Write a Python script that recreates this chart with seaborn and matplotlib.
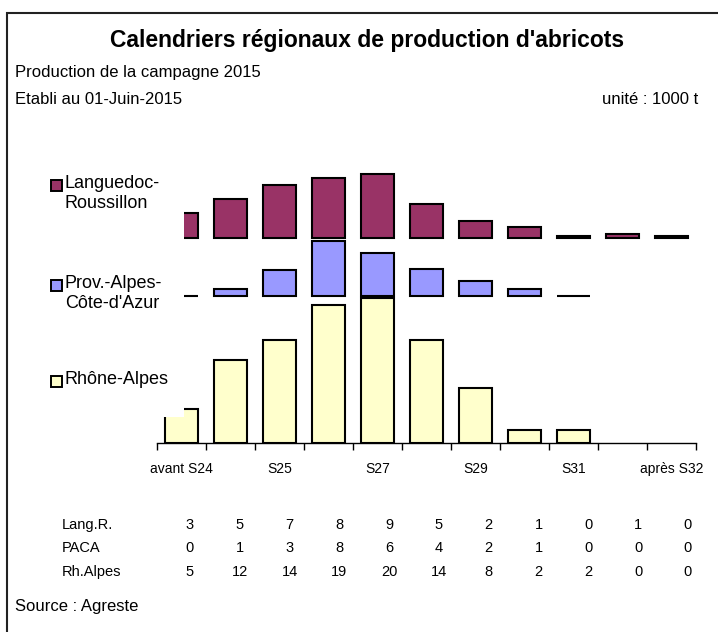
import numpy as np
import matplotlib
matplotlib.use("Agg")
import matplotlib.pyplot as plt
from matplotlib.patches import Rectangle
import seaborn as sns

# semaines
semaines = ["avant S24", "S24", "S25", "S26", "S27", "S28", "S29", "S30", "S31", "S32", "après S32"]
etiquettes = ["avant S24", "", "S25", "", "S27", "", "S29", "", "S31", "", "après S32"]

# hauteurs des barres (1000 t)
lang_barres = [3.4, 5.4, 7.3, 8.3, 8.8, 4.7, 2.3, 1.5, 0.3, 0.5, 0.2]
paca_barres = [0.0, 1.0, 3.6, 7.6, 5.9, 3.7, 2.1, 1.0, 0.0]
rhone_barres = [4.7, 11.4, 14.2, 19.0, 20.0, 14.2, 7.6, 1.8, 1.8, 0.0, 0.0]

# tableau sous le graphique (valeurs arrondies)
lignes_tableau = ["Lang.R.", "PACA", "Rh.Alpes"]
lang_tableau = [3, 5, 7, 8, 9, 5, 2, 1, 0, 1, 0]
paca_tableau = [0, 1, 3, 8, 6, 4, 2, 1, 0, 0, 0]
rhone_tableau = [5, 12, 14, 19, 20, 14, 8, 2, 2, 0, 0]

regions = ["Languedoc-\nRoussillon", "Prov.-Alpes-\nCôte-d'Azur", "Rhône-Alpes"]
couleurs = ["#993366", "#9999FF", "#FFFFCC"]

sns.set_style("white")
plt.rcParams["font.family"] = ["Liberation Sans", "DejaVu Sans"]
plt.rcParams["text.color"] = "black"
plt.rcParams["xtick.color"] = "black"

W, H = 718, 632


def fx(px):
    return px / W


def fy(py):
    return 1 - py / H


fig = plt.figure(figsize=(W / 100, H / 100), dpi=100)
ax = fig.add_axes([fx(157), fy(443), fx(696) - fx(157), (443 - 153) / H])

# empilement avec décalage fixe entre les régions
base_paca = max(rhone_barres) + 0.3
base_lang = base_paca + 8.0

kw = dict(width=0.69, edgecolor="black", linewidth=1.5, order=semaines, saturation=1)
sns.barplot(x=semaines, y=rhone_barres, color=couleurs[2], ax=ax, **kw)
# les barres nulles de Rhône-Alpes restent invisibles sur l'axe
for p in ax.patches:
    if p.get_height() == 0:
        p.set_edgecolor("none")
sns.barplot(x=semaines[:len(paca_barres)], y=paca_barres, color=couleurs[1], ax=ax,
            bottom=np.full(len(paca_barres), base_paca), **kw)
sns.barplot(x=semaines, y=lang_barres, color=couleurs[0], ax=ax,
            bottom=np.full(len(lang_barres), base_lang), **kw)

ax.set_xlim(-0.5, len(semaines) - 0.5)
ax.set_ylim(0, 40)
ax.set_xlabel("")
ax.set_ylabel("")
ax.set_yticks([])
sns.despine(ax=ax, left=True)
ax.spines["bottom"].set_color("black")
ax.spines["bottom"].set_linewidth(1)
ax.set_xticks(range(len(semaines)))
ax.set_xticklabels(etiquettes, fontsize=10)
ax.set_xticks(np.arange(-0.5, len(semaines), 1), minor=True)
ax.tick_params(axis="x", which="major", length=0, pad=14)
ax.tick_params(axis="x", which="minor", bottom=True, length=5, width=1, color="black", direction="out")

# fond blanc de la légende qui masque le début des barres
ax.add_patch(Rectangle((fx(40), fy(417)), fx(184) - fx(40), (417 - 150) / H,
                       transform=fig.transFigure, facecolor="white", edgecolor="none",
                       zorder=5, clip_on=False))

# légende
for nom, coul, ytxt in zip(regions, couleurs, [185, 285, 381]):
    fig.add_artist(Rectangle((fx(51), fy(ytxt + 6)), 11 / W, 11 / H, transform=fig.transFigure,
                             facecolor=coul, edgecolor="black", linewidth=1.4))
    fig.text(fx(65), fy(ytxt - 10), nom, fontsize=13, va="top", ha="left", linespacing=1.2)

# titres
fig.text(fx(367), fy(40), "Calendriers régionaux de production d'abricots",
         fontsize=16.5, fontweight="bold", ha="center", va="center")
fig.text(fx(15), fy(73), "Production de la campagne 2015", fontsize=12, va="center")
fig.text(fx(15), fy(100), "Etabli au 01-Juin-2015", fontsize=12, va="center")
fig.text(fx(698), fy(100), "unité : 1000 t", fontsize=12, va="center", ha="right")

# tableau
for nom, vals, ypx in zip(lignes_tableau, [lang_tableau, paca_tableau, rhone_tableau], [525, 548, 572]):
    fig.text(fx(62), fy(ypx), nom, fontsize=10.5, va="center")
    for i, v in enumerate(vals):
        fig.text(fx(190 + 49.8 * i), fy(ypx), str(v), fontsize=10.5, va="center", ha="center")

fig.text(fx(15), fy(606), "Source : Agreste", fontsize=12, va="center")

# cadre
fig.add_artist(Rectangle((fx(7), -0.1), 2, fy(13) + 0.1, transform=fig.transFigure,
                         facecolor="none", edgecolor="#222222", linewidth=1.5))

fig.savefig("out.png", dpi=100)
